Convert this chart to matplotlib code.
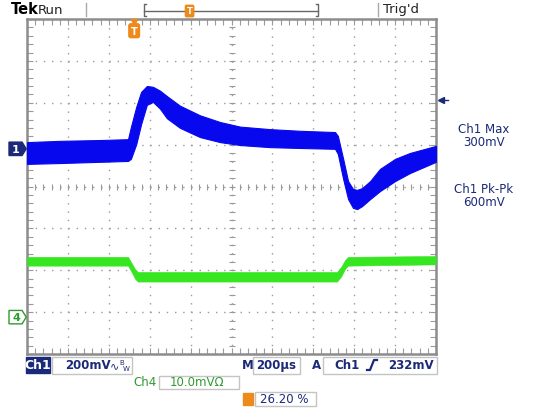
import matplotlib.pyplot as plt
import numpy as np
from matplotlib.patches import Rectangle, Polygon
from matplotlib.lines import Line2D
from matplotlib.transforms import Affine2D

# screen is 10 x 8 divisions, centre = (5, 0)
# Ch1 (blue) trace, upper / lower edge of the noisy band, in divisions
ch1_x = [0, 0.8, 1.8, 2.47, 2.54, 2.67, 2.79, 2.93, 3.08, 3.25, 3.42, 3.74, 4.23, 4.72,
         5.21, 5.94, 6.68, 7.53, 7.6, 7.73, 7.85, 7.97, 8.07, 8.19, 8.39, 8.63, 9.0, 9.36, 10]
ch1_hi = [1.06, 1.09, 1.11, 1.13, 1.42, 1.90, 2.26, 2.40, 2.38, 2.29, 2.16, 1.93, 1.70, 1.54,
          1.43, 1.37, 1.33, 1.30, 1.21, 0.66, 0.13, -0.06, -0.08, -0.04, 0.13, 0.42, 0.66, 0.80, 0.97]
ch1_lo = [0.54, 0.56, 0.59, 0.61, 0.66, 1.01, 1.49, 1.95, 2.02, 1.86, 1.63, 1.40, 1.18, 1.06,
          0.99, 0.94, 0.92, 0.90, 0.78, 0.18, -0.30, -0.51, -0.54, -0.47, -0.30, -0.11, 0.13, 0.32, 0.59]

# Ch4 (green) trace
ch4_x = [0, 2.47, 2.54, 2.64, 2.71, 7.58, 7.68, 7.78, 7.85, 10]
ch4_hi = [-1.68, -1.68, -1.80, -1.97, -2.04, -2.04, -1.92, -1.75, -1.68, -1.66]
ch4_lo = [-1.89, -1.89, -2.01, -2.20, -2.27, -2.27, -2.15, -1.96, -1.89, -1.86]

ch1_ground = 0.9
ch4_ground = -3.12
ch1_volts_div = 200   # mV
trig_level = 232      # mV
trig_pos = 26.20      # percent of record

NAVY = '#1b2a78'
ORANGE = '#ec8a1c'
GRID = '#9a9a9a'
BLUE = '#0808ee'
GREEN = '#35e620'
GTEXT = '#2f9a2f'

fig = plt.figure(figsize=(5.4, 4.1), dpi=100)
pix = Affine2D().scale(1 / 540, -1 / 410).translate(0, 1) + fig.transFigure

ax = fig.add_axes([27 / 540, 55 / 410, 409 / 540, 335 / 410])
ax.set_xlim(0, 10)
ax.set_ylim(-4, 4)

# graticule
for gx in range(1, 10):
    ax.axvline(gx, color=GRID, lw=1, ls=(0, (1, 5)), zorder=1)
for gy in range(-3, 4):
    ax.axhline(gy, color=GRID, lw=1, ls=(0, (1, 4.9)), zorder=1)
fine_x = np.arange(0, 10.01, 0.2)
fine_y = np.arange(-4, 4.01, 0.2)
ax.plot(fine_x, np.zeros_like(fine_x), ls='none', marker='|', ms=5, mew=0.8, color=GRID, zorder=1)
ax.plot(np.full_like(fine_y, 5), fine_y, ls='none', marker='_', ms=5, mew=0.8, color=GRID, zorder=1)
ax.set_xticks(fine_x)
ax.set_yticks(fine_y)
ax.tick_params(which='both', direction='in', length=4, width=0.8, colors=GRID,
               top=True, right=True, labelbottom=False, labelleft=False)
for sp in ax.spines.values():
    sp.set_color('#8c8c8c')
    sp.set_linewidth(1.8)

# traces
ax.fill_between(ch1_x, ch1_lo, ch1_hi, color=BLUE, lw=0.8, zorder=3)
ax.fill_between(ch4_x, ch4_lo, ch4_hi, color=GREEN, lw=0.4, zorder=3)

# channel ground markers
def ground_marker(y, label, fc, ec, tc):
    pts = [(-0.44, y - 0.16), (-0.12, y - 0.16), (-0.02, y), (-0.12, y + 0.16), (-0.44, y + 0.16)]
    ax.add_patch(Polygon(pts, closed=True, fc=fc, ec=ec, lw=1, clip_on=False, zorder=5))
    ax.text(-0.27, y, label, color=tc, fontsize=8, fontweight='bold',
            ha='center', va='center', clip_on=False, zorder=6)

ground_marker(ch1_ground, '1', NAVY, NAVY, 'white')
ground_marker(ch4_ground, '4', 'white', GTEXT, GTEXT)

# trigger level arrow on the right edge
tl = ch1_ground + trig_level / ch1_volts_div
ax.plot([10.12, 10.3], [tl, tl], color=NAVY, lw=1, clip_on=False)
ax.plot([10.12], [tl], marker='<', ms=5, color=NAVY, clip_on=False)

# trigger position marker at the top
tx = trig_pos / 10
ax.plot([tx], [3.93], marker='v', ms=5, color=ORANGE, clip_on=False, zorder=6)
ax.text(tx, 3.72, 'T', color='white', fontsize=7, fontweight='bold', ha='center', va='center',
        bbox=dict(boxstyle='round,pad=0.2', fc=ORANGE, ec=ORANGE), zorder=6)

# top status bar
fig.text(11, 10, 'Tek', transform=pix, fontsize=10.5, fontweight='bold', color='black', va='center')
fig.text(38, 10, 'Run', transform=pix, fontsize=9.5, color='#222222', va='center')
fig.add_artist(Line2D([86, 86], [4, 17], transform=pix, color='#aaaaaa', lw=1))
fig.add_artist(Line2D([378, 378], [4, 17], transform=pix, color='#aaaaaa', lw=1))
fig.add_artist(Line2D([144, 318], [12, 12], transform=pix, color='#666666', lw=1))
fig.add_artist(Line2D([146, 144, 144, 146], [5, 5, 17, 17], transform=pix, color='#666666', lw=1))
fig.add_artist(Line2D([316, 318, 318, 316], [5, 5, 17, 17], transform=pix, color='#666666', lw=1))
bx = 144 + (318 - 144) * trig_pos / 100
fig.text(bx, 12, 'T', transform=pix, color='white', fontsize=6, fontweight='bold', ha='center', va='center',
         bbox=dict(boxstyle='round,pad=0.15', fc=ORANGE, ec=ORANGE))
fig.text(383, 10, "Trig'd", transform=pix, fontsize=9.5, color='#222222', va='center')

# measurements
for (y, s) in [(130, 'Ch1 Max'), (143, '300mV'), (190, 'Ch1 Pk-Pk'), (203, '600mV')]:
    fig.text(484, y, s, transform=pix, fontsize=8.5, color=NAVY, ha='center', va='center')

# bottom readouts
def box(x0, y0, x1, y1, fc='white', ec='#c4c4c4'):
    fig.add_artist(Rectangle((x0, y0), x1 - x0, y1 - y0, transform=pix, fc=fc, ec=ec, lw=1))

box(26, 358, 50, 374, fc=NAVY, ec=NAVY)
fig.text(38, 366, 'Ch1', transform=pix, fontsize=9, fontweight='bold', color='white', ha='center', va='center')
box(52, 358, 132, 375)
fig.text(65, 366, '200mV', transform=pix, fontsize=8.5, fontweight='bold', color=NAVY, va='center')
fig.text(110, 366, '\u223f', transform=pix, fontsize=8, color=NAVY, va='center')
fig.text(119, 363, 'B', transform=pix, fontsize=5, color=NAVY, va='center')
fig.text(123, 369, 'W', transform=pix, fontsize=5, color=NAVY, va='center')

fig.text(242, 366, 'M', transform=pix, fontsize=8.5, fontweight='bold', color=NAVY, va='center')
box(253, 358, 300, 375)
fig.text(276.5, 366, '200\u00b5s', transform=pix, fontsize=8.5, fontweight='bold', color=NAVY,
         ha='center', va='center')
fig.text(312, 366, 'A', transform=pix, fontsize=8.5, fontweight='bold', color=NAVY, va='center')
box(323, 358, 437, 375)
fig.text(334, 366, 'Ch1', transform=pix, fontsize=8.5, fontweight='bold', color=NAVY, va='center')
fig.add_artist(Line2D([367, 370, 374, 377], [371, 371, 361, 361], transform=pix, color=NAVY, lw=1.6))
fig.text(434, 366, '232mV', transform=pix, fontsize=8.5, fontweight='bold', color=NAVY,
         ha='right', va='center')

fig.text(133, 383, 'Ch4', transform=pix, fontsize=8.5, color=GTEXT, va='center')
box(159, 377, 239, 390)
fig.text(170, 383, '10.0mV\u03a9', transform=pix, fontsize=8.5, color=GTEXT, va='center')

box(243, 394, 253, 406, fc=ORANGE, ec=ORANGE)
box(255, 393, 316, 407)
fig.text(260, 400, '26.20 %', transform=pix, fontsize=8.5, color=NAVY, va='center')

fig.savefig('out.png', dpi=100)
